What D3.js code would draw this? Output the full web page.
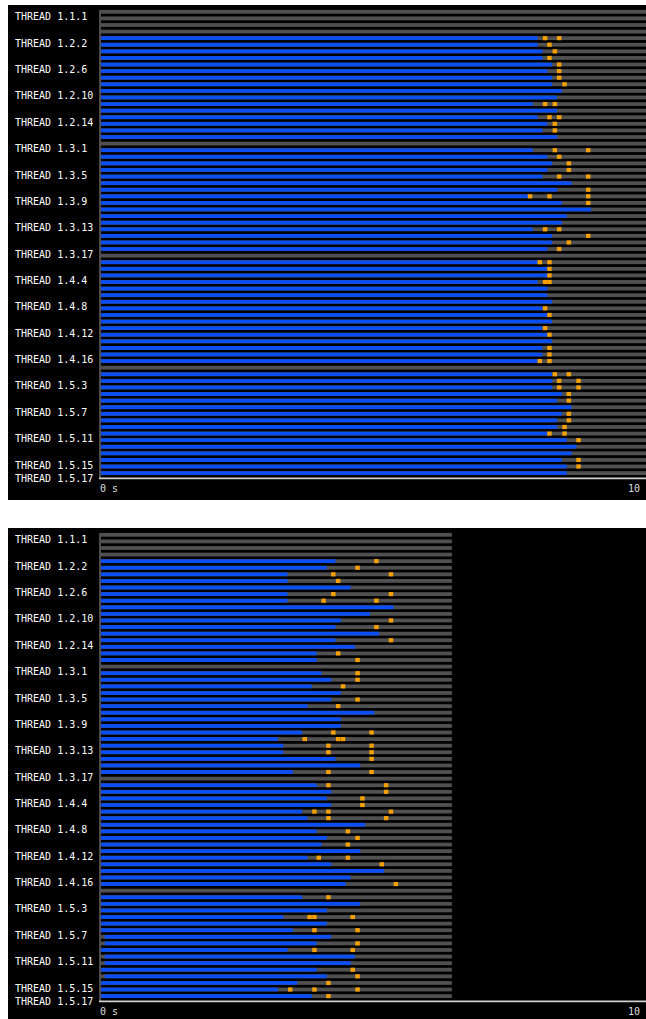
<!DOCTYPE html>
<html>
<head>
<meta charset="utf-8">
<script src="https://cdn.jsdelivr.net/npm/d3@7"></script>
<style>
  html, body { margin: 0; padding: 0; background: #ffffff; }
  svg { display: block; }
  text { font-family: "DejaVu Sans Mono", "Liberation Mono", monospace; }
</style>
</head>
<body>
<svg id="chart" width="646" height="1019"></svg>
<script>
// ---------- DATA ----------
const threads = [
  "1.1.1","1.1.2","1.1.3",
  "1.2.1","1.2.2","1.2.3","1.2.4","1.2.5","1.2.6","1.2.7","1.2.8","1.2.9","1.2.10","1.2.11","1.2.12","1.2.13","1.2.14","1.2.15","1.2.16","1.2.17",
  "1.3.1","1.3.2","1.3.3","1.3.4","1.3.5","1.3.6","1.3.7","1.3.8","1.3.9","1.3.10","1.3.11","1.3.12","1.3.13","1.3.14","1.3.15","1.3.16","1.3.17",
  "1.4.1","1.4.2","1.4.3","1.4.4","1.4.5","1.4.6","1.4.7","1.4.8","1.4.9","1.4.10","1.4.11","1.4.12","1.4.13","1.4.14","1.4.15","1.4.16","1.4.17",
  "1.5.1","1.5.2","1.5.3","1.5.4","1.5.5","1.5.6","1.5.7","1.5.8","1.5.9","1.5.10","1.5.11","1.5.12","1.5.13","1.5.14","1.5.15","1.5.16","1.5.17"
];

// labelled rows on the thread axis
const labelledThreads = [
  "1.1.1","1.2.2","1.2.6","1.2.10","1.2.14","1.3.1","1.3.5","1.3.9","1.3.13","1.3.17",
  "1.4.4","1.4.8","1.4.12","1.4.16","1.5.3","1.5.7","1.5.11","1.5.15","1.5.17"
];

// x-axis end labels
const xTickValues = [0, 10];
const xTickLabels = ["0 s", "10"];

// ----- top run (seconds) -----
const topRunEnd = 10.2;
const topBlueEnd = [
  null,null,null,
  null,8.10,8.10,8.19,8.19,8.37,8.28,8.37,8.37,8.55,8.46,8.01,8.46,8.10,8.28,8.19,8.46,
  null,8.01,8.28,8.37,8.28,8.19,8.73,8.46,7.92,8.55,9.09,8.64,8.55,8.01,8.37,8.37,8.28,
  null,8.10,8.28,8.28,8.10,8.28,8.28,8.37,8.19,8.28,8.37,8.19,8.28,8.37,8.19,8.19,8.10,
  null,8.37,8.37,8.37,8.55,8.46,8.73,8.55,8.46,8.46,8.28,8.64,8.82,8.73,8.55,8.64,8.64
];
const topMarks = [
  [],[],[],
  [],[8.24,8.50],[8.32],[8.42],[8.32],[8.50],[8.50],[8.50],[8.60],[],[],[8.24,8.42],[],[8.32,8.50],[8.42],[8.42],[],
  [],[8.42,9.04],[8.50],[8.68],[8.68],[8.50,9.04],[],[9.04],[7.96,8.32,9.04],[9.04],[],[],[],[8.24,8.50],[9.04],[8.68],[8.50],
  [],[8.14,8.32],[8.32],[8.32],[8.24,8.32],[],[],[],[8.24],[8.32],[],[8.24],[8.32],[],[8.32],[8.32],[8.14,8.32],
  [],[8.42,8.68],[8.50,8.86],[8.50,8.86],[8.68],[8.68],[],[8.68],[8.68],[8.60],[8.32,8.60],[8.86],[],[],[8.86],[8.86],[]
];
const topLateStartThreads = [];
const topLateStart = 0;

// ----- bottom run (seconds) -----
const botRunEnd = 6.51;
const botBlueEnd = [
  null,null,null,
  null,4.35,4.19,3.46,3.46,4.63,3.46,3.46,5.43,4.99,4.45,4.35,5.16,4.35,4.71,4.00,4.00,
  null,4.09,4.27,3.91,4.45,4.27,3.83,5.07,4.45,4.45,3.73,3.28,3.38,3.38,4.35,4.81,3.56,
  null,4.00,4.27,4.19,4.27,3.73,3.83,4.90,4.00,4.19,4.09,4.81,3.83,4.27,5.25,4.63,4.54,
  null,3.73,4.81,4.19,3.38,4.19,3.56,4.27,4.00,3.46,4.71,4.63,4.00,4.19,3.64,3.28,3.91
];
const botMarks = [
  [],[],[],
  [],[5.11],[4.76],[4.31,5.38],[4.40],[],[4.31,5.38],[4.13,5.11],[],[],[5.38],[5.11],[],[5.38],[],[4.40],[4.76],
  [],[4.76],[4.76],[4.49],[],[4.76],[4.40],[],[],[],[4.31,5.02],[3.78,4.40,4.49],[4.22,5.02],[4.22,5.02],[5.02],[],[4.22,5.02],
  [],[4.22,5.29],[5.29],[4.85],[4.85],[3.96,4.22,5.38],[4.22,5.29],[],[4.58],[4.76],[4.58],[],[4.04,4.58],[5.21],[],[],[5.47],
  [],[4.22],[],[],[3.87,3.96,4.67],[],[3.96,4.76],[],[4.76],[3.96,4.67],[],[],[4.67],[4.76],[4.22],[3.51,3.96,4.76],[4.22]
];
const botLateStartThreads = ["1.5.8","1.5.9","1.5.11","1.5.12","1.5.14"];
const botLateStart = 0.07;

// ---------- STYLE ----------
const COLORS = { bg: "#000000", idle: "#505050", run: "#0b4ff2", mark: "#f5a000", axis: "#cfcfcf", vaxis: "#9a9a9a", label: "#ffffff", xlabel: "#dddddd" };

const panels = [
  { top: 5,   blueEnd: topBlueEnd, marks: topMarks, runEnd: topRunEnd, late: topLateStartThreads, lateT: topLateStart },
  { top: 528, blueEnd: botBlueEnd, marks: botMarks, runEnd: botRunEnd, late: botLateStartThreads, lateT: botLateStart }
];

const svg = d3.select("#chart");
const x = d3.scaleLinear().domain([0, 10]).range([101, 640]);
const y = d3.scaleBand().domain(threads).range([3.5, 471.4]).padding(0);
const barH = 3.8;
const barOff = (y.bandwidth() - barH) / 2;
const markW = 4.5;
const axisY = 473.3;

svg.append("defs").append("clipPath").attr("id", "plotclip")
  .append("rect").attr("x", 100).attr("y", 0).attr("width", 546).attr("height", 495);

panels.forEach((p) => {
  const g = svg.append("g").attr("transform", `translate(0,${p.top})`);
  g.append("rect").attr("x", 8).attr("y", 0).attr("width", 638).attr("height", 495).attr("fill", COLORS.bg);

  const rows = threads.map((t, i) => ({
    thread: t,
    start: p.late.includes(t) ? p.lateT : 0,
    end: p.blueEnd[i],
    marks: p.marks[i]
  }));

  const plot = g.append("g").attr("clip-path", "url(#plotclip)");

  plot.selectAll("rect.idle").data(rows).join("rect").attr("class", "idle")
    .attr("x", x(0)).attr("y", d => y(d.thread) + barOff)
    .attr("width", x(p.runEnd) - x(0)).attr("height", barH)
    .attr("fill", COLORS.idle);

  plot.selectAll("rect.run").data(rows.filter(d => d.end != null)).join("rect").attr("class", "run")
    .attr("x", d => x(d.start)).attr("y", d => y(d.thread) + barOff)
    .attr("width", d => x(d.end) - x(d.start)).attr("height", barH)
    .attr("fill", COLORS.run);

  const markData = rows.flatMap(d => d.marks.map(t => ({ thread: d.thread, t })));
  plot.selectAll("rect.mark").data(markData).join("rect").attr("class", "mark")
    .attr("x", d => x(d.t) - markW / 2).attr("y", d => y(d.thread) + barOff - 0.2)
    .attr("width", markW).attr("height", barH + 0.4)
    .attr("fill", COLORS.mark);

  // vertical axis line
  g.append("line").attr("x1", 100).attr("x2", 100).attr("y1", 5).attr("y2", axisY)
    .attr("stroke", COLORS.vaxis).attr("stroke-width", 1);

  // thread labels
  const yAxis = g.append("g").attr("transform", "translate(100,0)")
    .call(d3.axisLeft(y).tickValues(labelledThreads).tickSize(0).tickFormat(d => "THREAD " + d));
  yAxis.select(".domain").remove();
  yAxis.selectAll("text")
    .attr("x", -85).attr("dy", 8.6)
    .attr("text-anchor", "start")
    .attr("fill", COLORS.label)
    .style("font-size", "10px")
    .style("font-family", "'DejaVu Sans Mono', monospace");

  // bottom axis line
  g.append("line").attr("x1", 99).attr("x2", 646).attr("y1", axisY).attr("y2", axisY)
    .attr("stroke", COLORS.axis).attr("stroke-width", 1.8);

  // x labels
  g.selectAll("text.xl").data(xTickValues).join("text").attr("class", "xl")
    .attr("x", (d, i) => i === 0 ? x(d) - 1 : x(d))
    .attr("y", 487)
    .attr("text-anchor", (d, i) => i === 0 ? "start" : "end")
    .attr("fill", COLORS.xlabel)
    .style("font-size", "10px")
    .text((d, i) => xTickLabels[i]);
});
</script>
</body>
</html>
